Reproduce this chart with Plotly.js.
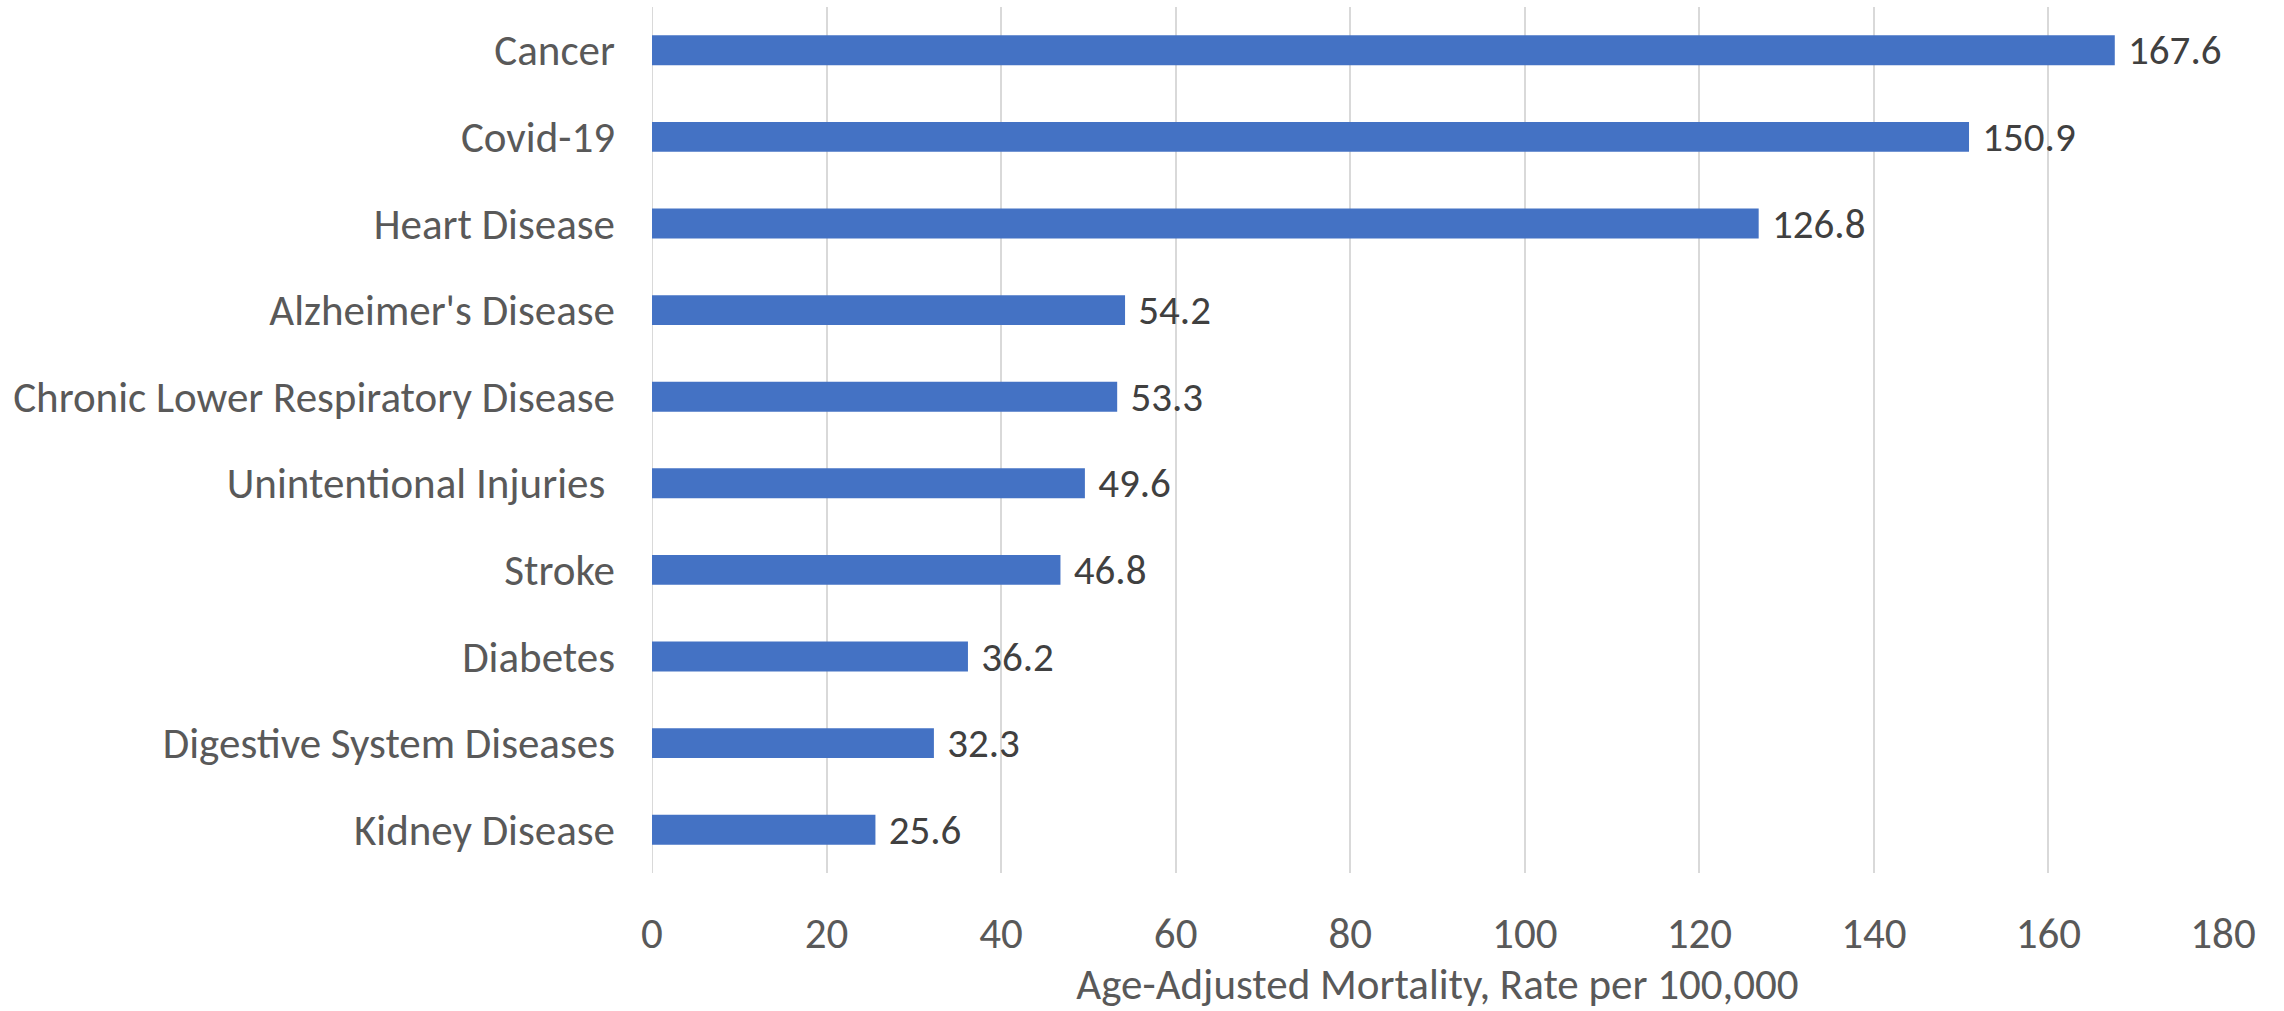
<!DOCTYPE html>
<html>
<head>
<meta charset="utf-8">
<script src="https://cdn.plot.ly/plotly-3.0.1.min.js"></script>
<style>html,body{margin:0;padding:0;background:#fff;}#chart{width:2284px;height:1011px;}</style>
</head>
<body>
<div id="chart"></div>
<script>
const categories = ["Cancer", "Covid-19", "Heart Disease", "Alzheimer's Disease", "Chronic Lower Respiratory Disease", "Unintentional Injuries\u00a0", "Stroke", "Diabetes", "Digestive System Diseases", "Kidney Disease"];
const rates = [167.6, 150.9, 126.8, 54.2, 53.3, 49.6, 46.8, 36.2, 32.3, 25.6];
const xTicks = [0, 20, 40, 60, 80, 100, 120, 140, 160, 180];
const xTitle = "Age-Adjusted Mortality, Rate per 100,000";

const FONT = "Calibri, Carlito, Lato, sans-serif";
const FS = 43;
const FS_LABEL = 41;

const trace = {
  type: 'bar',
  orientation: 'h',
  x: rates,
  y: categories,
  marker: {color: '#4472C4'},
  texttemplate: '\u2005%{x:.1f}',
  textposition: 'outside',
  constraintext: 'none',
  cliponaxis: false,
  textfont: {family: FONT, size: FS_LABEL, color: '#404040'},
  hoverinfo: 'none'
};

const layout = {
  width: 2284,
  height: 1011,
  margin: {l: 652, r: 61, t: 7, b: 138},
  paper_bgcolor: '#ffffff',
  plot_bgcolor: '#ffffff',
  showlegend: false,
  bargap: 0.655,
  xaxis: {
    range: [0, 180],
    tickvals: xTicks,
    ticktext: xTicks.map(String),
    showgrid: true,
    gridcolor: '#D9D9D9',
    gridwidth: 2,
    zeroline: false,
    showline: false,
    ticks: '',
    ticklabelstandoff: 31,
    tickfont: {family: FONT, size: FS, color: '#595959'},
    title: {text: xTitle, font: {family: FONT, size: FS, color: '#595959'}, standoff: 12},
    fixedrange: true
  },
  yaxis: {
    autorange: 'reversed',
    type: 'category',
    showgrid: false,
    zeroline: false,
    showline: false,
    ticks: '',
    ticklabelstandoff: 36,
    tickfont: {family: FONT, size: FS, color: '#595959'},
    fixedrange: true
  },
  shapes: [{
    type: 'line', xref: 'x', yref: 'paper', x0: 0, x1: 0, y0: 0, y1: 1,
    line: {color: '#D9D9D9', width: 2}, layer: 'below'
  }]
};

Plotly.newPlot('chart', [trace], layout, {displayModeBar: false, staticPlot: true});
</script>
</body>
</html>
